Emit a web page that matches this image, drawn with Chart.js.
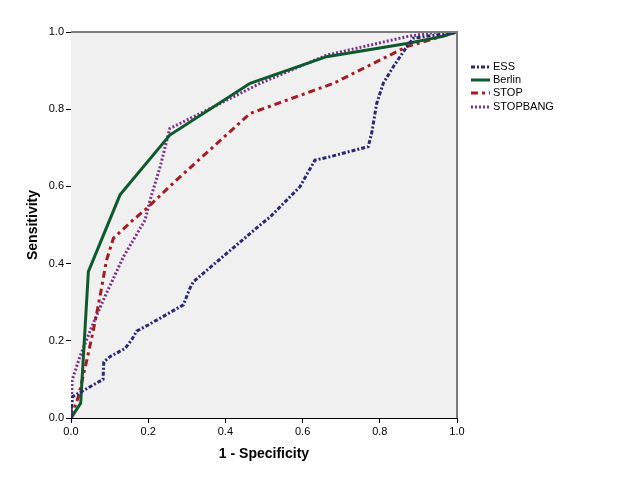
<!DOCTYPE html>
<html>
<head>
<meta charset="utf-8">
<script src="https://cdn.jsdelivr.net/npm/chart.js@4"></script>
<style>
  body { margin: 0; background: #fff; }
</style>
</head>
<body>
<canvas id="roc" width="626" height="501"></canvas>
<script>
// ROC curves, values
const essX = [0, 0.004, 0.044, 0.083, 0.085, 0.101, 0.14, 0.157, 0.17, 0.2, 0.291, 0.308, 0.317, 0.49, 0.516, 0.593, 0.632, 0.671, 0.77, 0.779, 0.792, 0.809, 0.835, 0.87, 0.887, 1];
const essY = [0, 0.055, 0.078, 0.1, 0.145, 0.159, 0.18, 0.202, 0.225, 0.241, 0.293, 0.336, 0.353, 0.5, 0.521, 0.599, 0.668, 0.677, 0.703, 0.738, 0.815, 0.867, 0.91, 0.962, 0.984, 1];

const berlinX = [0, 0.025, 0.045, 0.127, 0.256, 0.464, 0.662, 0.87, 0.96, 1];
const berlinY = [0, 0.038, 0.379, 0.578, 0.733, 0.867, 0.936, 0.97, 0.988, 1];

const stopX = [0, 0.019, 0.041, 0.058, 0.075, 0.092, 0.11, 0.161, 0.196, 0.274, 0.464, 0.68, 0.87, 1];
const stopY = [0, 0.055, 0.15, 0.228, 0.314, 0.409, 0.466, 0.513, 0.543, 0.617, 0.789, 0.867, 0.962, 1];

const stopbangX = [0, 0.003, 0.023, 0.054, 0.084, 0.136, 0.192, 0.205, 0.231, 0.256, 0.369, 0.49, 0.662, 0.87, 0.947, 1];
const stopbangY = [0, 0.098, 0.159, 0.237, 0.306, 0.418, 0.513, 0.565, 0.651, 0.75, 0.806, 0.867, 0.94, 0.988, 1, 1];

const labels = ["ESS", "Berlin", "STOP", "STOPBANG"];
const colors = ["#2a2a72", "#0e5a2c", "#a11d21", "#7b318b"];
const dashes = [[4, 2, 2, 2], [], [7, 4, 3, 4], [2, 2]];

const toPoints = (xs, ys) => xs.map((x, i) => ({ x: x, y: ys[i] }));
const series = [toPoints(essX, essY), toPoints(berlinX, berlinY), toPoints(stopX, stopY), toPoints(stopbangX, stopbangY)];

const FONT = "Arial, 'Liberation Sans', sans-serif";

// grey plot background + top/right frame
const frame = {
  id: "frame",
  beforeDatasetsDraw(chart) {
    const { ctx, chartArea: a } = chart;
    ctx.save();
    ctx.fillStyle = "#f0f0f0";
    ctx.fillRect(a.left, a.top, a.right - a.left, a.bottom - a.top);
    ctx.restore();
  },
  afterDraw(chart) {
    const { ctx, chartArea: a } = chart;
    ctx.save();
    ctx.strokeStyle = "#7a7a7a";
    ctx.lineWidth = 2;
    ctx.beginPath();
    ctx.moveTo(a.left, a.top);
    ctx.lineTo(a.right, a.top);
    ctx.lineTo(a.right, a.bottom);
    ctx.stroke();
    ctx.restore();
  }
};

// legend to the right of the plot
const sideLegend = {
  id: "sideLegend",
  afterDraw(chart) {
    const ctx = chart.ctx;
    const rows = [67, 80, 93, 107];
    ctx.save();
    ctx.font = "11px " + FONT;
    ctx.textBaseline = "middle";
    chart.data.datasets.forEach((ds, i) => {
      ctx.strokeStyle = ds.borderColor;
      ctx.lineWidth = 3;
      ctx.setLineDash(ds.borderDash);
      ctx.beginPath();
      ctx.moveTo(471, rows[i]);
      ctx.lineTo(490, rows[i]);
      ctx.stroke();
      ctx.setLineDash([]);
      ctx.fillStyle = "#000";
      ctx.fillText(ds.label, 493, rows[i]);
    });
    ctx.restore();
  }
};

const data = {
  datasets: labels.map((lab, i) => ({
    label: lab,
    data: series[i],
    showLine: true,
    borderColor: colors[i],
    backgroundColor: colors[i],
    borderDash: dashes[i],
    borderWidth: 3,
    pointRadius: 0,
    tension: 0
  }))
};

const tickFmt = (v) => Number(v).toFixed(1);

const config = {
  type: "scatter",
  data: data,
  options: {
    responsive: false,
    animation: false,
    layout: { padding: { top: 32, right: 169, left: 0, bottom: 0 } },
    plugins: { legend: { display: false }, tooltip: { enabled: false } },
    scales: {
      x: {
        type: "linear",
        min: 0,
        max: 1,
        afterFit: (s) => { s.height = 83; },
        grid: { drawOnChartArea: false, tickLength: 5, color: "#000", tickColor: "#000" },
        border: { color: "#000", width: 1 },
        ticks: { stepSize: 0.2, padding: 2, color: "#000", font: { family: FONT, size: 11 }, callback: tickFmt, maxRotation: 0 },
        title: { display: true, text: "1 - Specificity", color: "#000", font: { family: FONT, size: 14, weight: "bold" }, padding: { top: 0, bottom: 38 } }
      },
      y: {
        type: "linear",
        min: 0,
        max: 1,
        afterFit: (s) => { s.width = 71; },
        grid: { drawOnChartArea: false, tickLength: 5, color: "#000", tickColor: "#000" },
        border: { color: "#000", width: 1 },
        ticks: { stepSize: 0.2, padding: 2, color: "#000", font: { family: FONT, size: 11 }, callback: tickFmt },
        title: { display: true, text: "Sensitivity", color: "#000", font: { family: FONT, size: 14, weight: "bold" }, padding: { top: 25, bottom: 0 } }
      }
    }
  },
  plugins: [frame, sideLegend]
};

const rocChart = new Chart(document.getElementById("roc"), config);
</script>
</body>
</html>
